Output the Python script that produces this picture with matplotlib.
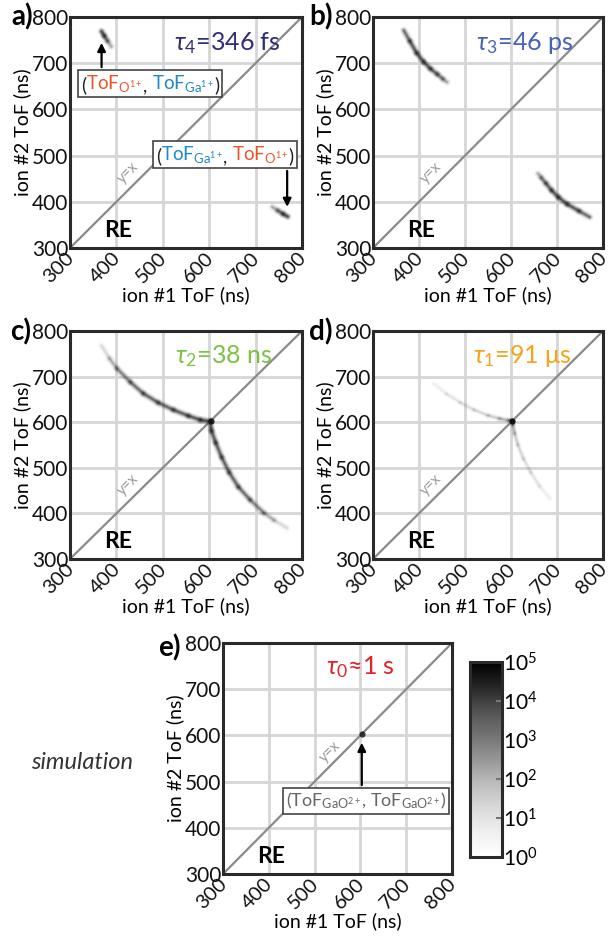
import numpy as np
import matplotlib
matplotlib.use("Agg")
import matplotlib.pyplot as plt
import matplotlib.transforms as mtransforms
from matplotlib.collections import LineCollection
from matplotlib.colors import LogNorm
from matplotlib.patches import Rectangle

FONT = 'Lato'
plt.rcParams['font.family'] = [FONT, 'DejaVu Sans']
plt.rcParams['mathtext.fontset'] = 'custom'
plt.rcParams['mathtext.rm'] = FONT
plt.rcParams['mathtext.it'] = FONT + ':italic'
plt.rcParams['mathtext.bf'] = FONT + ':bold'
plt.rcParams['mathtext.default'] = 'regular'

# axis ticks (ns)
ticks = [300, 400, 500, 600, 700, 800]

# upper branch of each coincidence curve (ion #1 ToF, ion #2 ToF, relative intensity);
# the lower branch is its mirror about y=x
a_x = [368, 374, 381, 389]
a_y = [769, 759, 748, 736]
a_i = [0.95, 0.8, 0.5, 0.15]
b_x = [367, 380, 395, 410, 425, 440, 452, 461]
b_y = [771, 748, 722, 703, 688, 676, 666, 659]
b_i = [0.5, 0.75, 0.8, 0.8, 0.75, 0.65, 0.45, 0.2]
c_x = [368, 385, 401, 430, 458, 490, 523, 555, 581, 602]
c_y = [768, 740, 718, 688, 663, 643, 627, 614, 605, 602]
c_i = [0.05, 0.2, 0.4, 0.6, 0.65, 0.7, 0.7, 0.75, 0.8, 0.9]
d_x = [432, 460, 490, 520, 550, 575, 595, 603]
d_y = [685, 662, 643, 627, 615, 608, 604, 602]
d_i = [0.03, 0.08, 0.1, 0.12, 0.15, 0.22, 0.35, 0.7]
# central spot
spot_xy = 603

cbar_vals = [1, 10, 100, 1000, 1e4, 1e5]
cbar_labels = ['$10^0$', '$10^1$', '$10^2$', '$10^3$', '$10^4$', '$10^5$']

taus = [r'$\mathit{\tau_4}$=346 fs', r'$\mathit{\tau_3}$=46 ps', r'$\mathit{\tau_2}$=38 ns',
        r'$\mathit{\tau_1}$=91 μs', r'$\mathit{\tau_0}$≈1 s']
tau_colors = ['#2e2d78', '#4562b8', '#7cc144', '#f7a21b', '#e0222a']
tau_pos = [(638, 744), (629, 744), (631, 746), (624, 746), (600, 749)]
yx_pos = [(426, 462), (426, 462), (426, 462), (426, 462), (533, 565)]
panel_tags = ['a)', 'b)', 'c)', 'd)', 'e)']

O_COL = '#e8542a'
GA_COL = '#1e88cf'

W, H = 609, 938
fig = plt.figure(figsize=(W / 100, H / 100), dpi=100)

# axes boxes in pixels: left, top, right, bottom
boxes = [(70, 17, 302, 248), (373, 17, 603, 248),
         (70, 331, 302, 559), (373, 331, 603, 559),
         (223, 643, 452, 874)]
tag_pos = [(33, 17), (333, 17), (31, 332), (333, 332), (181, 648)]


def px_axes(l, t, r, b):
    return fig.add_axes([l / W, 1 - b / H, (r - l) / W, (b - t) / H])


def draw_branch(ax, xs, ys, inten, lw):
    pts = np.column_stack([xs, ys])
    for swap in (False, True):
        p = pts[:, ::-1] if swap else pts
        segs = np.stack([p[:-1], p[1:]], axis=1)
        iv = (np.array(inten[:-1]) + np.array(inten[1:])) / 2
        for w, a in ((lw * 2.6, 0.12), (lw * 1.9, 0.2), (lw * 1.3, 0.35), (lw * 0.7, 0.6)):
            cols = [(0.12, 0.12, 0.12, a * v) for v in iv]
            ax.add_collection(LineCollection(segs, colors=cols, linewidths=w,
                                             capstyle='round', zorder=3))


def chain_text(ax, x, y, pieces, size):
    # lay out coloured pieces one after another, starting at data point (x, y)
    txts = []
    prev = None
    for s, col in pieces:
        if prev is None:
            t = ax.text(x, y, s, color=col, fontsize=size, va='baseline', ha='left', zorder=6)
        else:
            t = ax.annotate(s, xy=(1, 0), xycoords=prev, va='bottom', ha='left',
                            color=col, fontsize=size, zorder=6,
                            annotation_clip=False)
        txts.append(t)
        prev = t
    return txts


def box_around(ax, txts, padx=3, pady=5):
    fig.canvas.draw()
    r = fig.canvas.get_renderer()
    bbs = [t.get_window_extent(r) for t in txts]
    x0 = min(b.x0 for b in bbs) - padx
    x1 = max(b.x1 for b in bbs) + padx
    y0 = min(b.y0 for b in bbs) - pady + 2
    y1 = max(b.y1 for b in bbs) + pady - 2
    inv = ax.transData.inverted()
    (dx0, dy0), (dx1, dy1) = inv.transform([(x0, y0), (x1, y1)])
    ax.add_patch(Rectangle((dx0, dy0), dx1 - dx0, dy1 - dy0, facecolor='white',
                           edgecolor='#444444', lw=1.2, zorder=5, clip_on=False))
    return dx0, dy0, dx1, dy1


shift = mtransforms.ScaledTranslation(-11 / 100, 0, fig.dpi_scale_trans)

axes = []
for k, bx in enumerate(boxes):
    ax = px_axes(*bx)
    axes.append(ax)
    ax.set_xlim(300, 800)
    ax.set_ylim(300, 800)
    ax.set_xticks(ticks)
    ax.set_yticks(ticks)
    ax.grid(True, color='#d6d6d6', lw=2, zorder=0)
    ax.set_axisbelow(True)
    ax.tick_params(length=0, labelsize=15, pad=1, colors='#111111')
    ax.tick_params(axis='x', labelsize=14.5)
    for lab in ax.get_xticklabels():
        lab.set_rotation(45)
        lab.set_transform(lab.get_transform() + shift)
    for sp in ax.spines.values():
        sp.set_linewidth(2.2)
        sp.set_color('#2a2a2a')
    ax.set_xlabel('ion #1 ToF (ns)', fontsize=14, labelpad=0)
    ax.set_ylabel('ion #2 ToF (ns)', fontsize=14, labelpad=1)
    ax.plot([300, 800], [300, 800], color='#8a8a8a', lw=1.6, zorder=2)
    yx, yy = yx_pos[k]
    ax.text(yx, yy, 'y=x', rotation=45, fontsize=10.5, color='#9a9a9a',
            ha='center', va='center', zorder=2)
    ax.text(404, 338, 'RE', fontsize=16.5, fontweight='bold', ha='center', va='center', zorder=4)
    tx, ty = tau_pos[k]
    ax.text(tx, ty, taus[k], color=tau_colors[k], fontsize=18, ha='center', va='center', zorder=4)
    gx, gy = tag_pos[k]
    fig.text(gx / W, 1 - gy / H, panel_tags[k], fontsize=20, fontweight='bold',
             ha='right', va='center')

draw_branch(axes[0], a_x, a_y, a_i, 2.2)
draw_branch(axes[1], b_x, b_y, b_i, 2.2)
draw_branch(axes[2], c_x, c_y, c_i, 2.2)
draw_branch(axes[3], d_x, d_y, d_i, 1.8)
for ax, c in ((axes[2], 0.85), (axes[3], 0.95), (axes[4], 0.8)):
    ax.scatter([spot_xy], [spot_xy], s=20, color=(0.05, 0.05, 0.05, c), zorder=4, lw=0)

# annotations, panel a
p1 = [('(', '#222222'), ('ToF$_{O^{1+}}$', O_COL), (', ', '#222222'),
      ('ToF$_{Ga^{1+}}$', GA_COL), (')', '#222222')]
t1 = chain_text(axes[0], 324, 640, p1, 13.5)
b1 = box_around(axes[0], t1)
axes[0].annotate('', xy=(368, 750), xytext=(368, b1[3]),
                 arrowprops=dict(arrowstyle='-|>', color='black', lw=1.6, mutation_scale=12), zorder=6)
p2 = [('(', '#222222'), ('ToF$_{Ga^{1+}}$', GA_COL), (', ', '#222222'),
      ('ToF$_{O^{1+}}$', O_COL), (')', '#222222')]
t2 = chain_text(axes[0], 485, 486, p2, 13.5)
b2 = box_around(axes[0], t2)
axes[0].annotate('', xy=(768, 383), xytext=(768, b2[1]),
                 arrowprops=dict(arrowstyle='-|>', color='black', lw=1.6, mutation_scale=12), zorder=6)

# annotation, panel e
p3 = [('(ToF$_{GaO^{2+}}$, ToF$_{GaO^{2+}}$)', '#666666')]
t3 = chain_text(axes[4], 437, 446, p3, 13)
b3 = box_around(axes[4], t3)
axes[4].annotate('', xy=(603, 590), xytext=(603, b3[3]),
                 arrowprops=dict(arrowstyle='-|>', color='black', lw=1.6, mutation_scale=12), zorder=6)

fig.text(82 / W, 1 - 762 / H, 'simulation', fontsize=17, style='italic',
         color='#333333', ha='center', va='center')

# colour bar
cax = px_axes(470, 662, 502, 857)
sm = plt.cm.ScalarMappable(norm=LogNorm(cbar_vals[0], cbar_vals[-1]), cmap='Greys')
cb = fig.colorbar(sm, cax=cax)
cb.set_ticks(cbar_vals)
cb.set_ticklabels(cbar_labels)
cb.ax.tick_params(labelsize=15, length=4, width=1.5, color='#777777', direction='in', pad=1)
cb.ax.minorticks_off()
cb.outline.set_linewidth(2.2)
cb.outline.set_edgecolor('#2a2a2a')

fig.savefig('out.png', dpi=100)
